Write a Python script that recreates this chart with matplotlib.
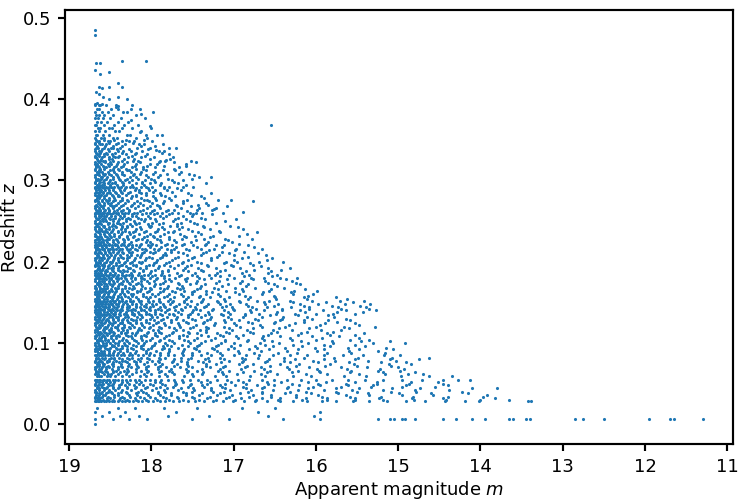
import matplotlib
matplotlib.use("Agg")
import matplotlib.pyplot as plt

# sparse galaxies at high redshift, read point by point
top_m = [18.68, 18.68, 18.67, 18.62, 18.35, 18.06, 18.68, 18.62, 18.52, 18.63,
         18.60, 18.52, 18.41, 18.36, 18.67, 18.63, 18.59, 18.51, 18.41, 18.30,
         18.68, 18.66, 18.64, 18.60, 18.43, 18.40, 18.25, 17.98, 16.54, 17.87,
         18.02, 18.12, 18.25, 18.14, 18.06, 17.79, 17.85, 17.94, 17.52, 17.46,
         17.58, 17.72, 17.82, 17.27, 17.48, 17.66, 17.03, 16.77, 16.88, 17.24,
         17.31, 17.42]
top_z = [0.485, 0.478, 0.444, 0.444, 0.446, 0.446, 0.435, 0.431, 0.433, 0.414,
         0.413, 0.414, 0.419, 0.414, 0.408, 0.406, 0.402, 0.400, 0.402, 0.400,
         0.394, 0.395, 0.393, 0.394, 0.390, 0.391, 0.387, 0.384, 0.368, 0.356,
         0.367, 0.381, 0.374, 0.359, 0.355, 0.340, 0.336, 0.337, 0.324, 0.323,
         0.317, 0.322, 0.325, 0.304, 0.306, 0.308, 0.276, 0.274, 0.261, 0.265,
         0.270, 0.266]

# the bulk of the sample: redshift row -> apparent magnitudes on that row
rows = [
    (0.392, "18.68 18.62 18.55 18.43 18.24"),
    (0.388, "18.66 18.64 18.49 18.40 18.14"),
    (0.384, "18.68 18.60 18.53 18.34 18.29"),
    (0.380, "18.67 18.63 18.57 18.46 18.19"),
    (0.376, "18.68 18.65 18.59 18.50 18.37 18.08"),
    (0.372, "18.66 18.61 18.54 18.41 18.28"),
    (0.368, "18.68 18.67 18.58 18.45 18.33 18.16"),
    (0.364, "18.65 18.62 18.52 18.48 18.35 18.23 18.00"),
    (0.360, "18.68 18.63 18.56 18.44 18.39 18.12"),
    (0.356, "18.67 18.66 18.59 18.51 18.30 18.26 17.93"),
    (0.352, "18.68 18.61 18.57 18.47 18.42 18.18 18.05"),
    (0.348, "18.66 18.64 18.53 18.50 18.36 18.27 17.99 18.21"),
    (0.344, "18.68 18.62 18.60 18.55 18.43 18.32 18.09 17.86 18.15"),
    (0.340, "18.67 18.65 18.58 18.49 18.46 18.38 18.17 17.70 18.02"),
    (0.336, "18.68 18.63 18.61 18.52 18.41 18.34 18.25 17.91 18.11"),
    (0.332, "18.66 18.64 18.57 18.54 18.48 18.31 18.20 18.05 17.78"),
    (0.328, "18.68 18.67 18.60 18.51 18.44 18.40 18.28 17.97 17.74 18.13"),
    (0.324, "18.65 18.62 18.59 18.56 18.47 18.36 18.22 18.16 17.89 17.83"),
    (0.320, "18.68 18.66 18.61 18.53 18.49 18.42 18.33 18.01 17.58 18.19 17.93"),
    (0.316, "18.67 18.63 18.58 18.55 18.45 18.37 18.24 18.10 17.66 17.96"),
    (0.312, "18.68 18.64 18.62 18.50 18.46 18.39 18.30 18.27 18.06 17.71 17.86"),
    (0.308, "18.66 18.65 18.59 18.56 18.52 18.43 18.35 18.14 18.21 17.98 17.54 17.81"),
    (0.304, "18.68 18.61 18.60 18.54 18.47 18.41 18.26 18.04 17.92 17.42 18.18"),
    (0.300, "18.67 18.66 18.63 18.57 18.50 18.38 18.32 18.23 18.08 17.75 17.61 17.97"),
    (0.296, "18.68 18.64 18.58 18.53 18.48 18.44 18.34 18.19 18.11 17.88 17.33 17.67 18.02"),
    (0.292, "18.68 18.66 18.65 18.62 18.60 18.55 18.51 18.49 18.45 18.40 18.37 18.31 18.26 "
            "18.22 18.13 18.07 17.99 17.85 17.79 17.49 17.62"),
    (0.288, "18.67 18.63 18.61 18.56 18.52 18.46 18.38 18.33 18.20 18.15 17.95 17.64 18.03 17.81"),
    (0.284, "18.68 18.65 18.59 18.54 18.50 18.43 18.36 18.28 18.12 17.90 17.56 17.27 18.07"),
    (0.280, "18.66 18.64 18.62 18.57 18.47 18.41 18.39 18.24 18.18 17.98 17.71 17.40 17.83"),
    (0.276, "18.68 18.67 18.60 18.55 18.51 18.44 18.35 18.29 18.09 18.05 17.76 17.19 17.57 17.94"),
    (0.272, "18.65 18.63 18.58 18.53 18.49 18.40 18.32 18.21 18.14 17.86 17.62 17.34 17.99"),
    (0.268, "18.68 18.66 18.61 18.59 18.48 18.45 18.37 18.25 18.16 18.01 17.69 17.08 17.52 17.91"),
    (0.264, "18.67 18.64 18.62 18.56 18.52 18.42 18.34 18.27 18.10 17.97 17.80 17.44 17.26 17.73"),
    (0.260, "18.68 18.67 18.65 18.63 18.60 18.58 18.54 18.52 18.47 18.43 18.41 18.36 18.32 "
            "18.28 18.21 18.17 18.06 18.02 17.93 17.87 17.75 17.68 17.53 17.38 17.13 17.46"),
    (0.256, "18.68 18.64 18.61 18.57 18.55 18.49 18.44 18.38 18.33 18.23 18.19 18.04 17.90 "
            "17.82 17.50 17.61"),
    (0.252, "18.66 18.65 18.60 18.56 18.50 18.46 18.39 18.31 18.26 18.12 18.08 17.95 17.71 "
            "17.35 16.97 17.58"),
    (0.248, "18.68 18.63 18.62 18.53 18.51 18.42 18.40 18.34 18.20 18.15 17.99 17.86 17.64 "
            "17.21 17.48"),
    (0.244, "18.67 18.66 18.59 18.57 18.48 18.44 18.35 18.29 18.24 18.03 18.00 17.77 17.37 "
            "17.04 17.69"),
    (0.240, "18.68 18.64 18.61 18.55 18.52 18.47 18.37 18.32 18.18 18.13 17.92 17.84 17.66 "
            "17.29 16.88 17.55"),
    (0.236, "18.65 18.63 18.58 18.54 18.49 18.41 18.36 18.27 18.22 18.09 17.96 17.74 17.43 "
            "17.17 16.71 17.80"),
    (0.232, "18.68 18.67 18.62 18.56 18.50 18.45 18.39 18.30 18.21 18.05 17.98 17.89 17.60 "
            "17.25 16.94 17.47"),
    (0.228, "18.66 18.64 18.60 18.53 18.51 18.43 18.34 18.28 18.16 18.11 17.93 17.78 17.63 "
            "17.11 16.78 17.36"),
    (0.224, "18.68 18.65 18.61 18.59 18.54 18.46 18.40 18.33 18.25 18.07 18.01 17.88 17.70 "
            "17.52 17.02 17.31"),
    (0.220, "18.68 18.67 18.66 18.63 18.61 18.58 18.55 18.51 18.48 18.44 18.42 18.37 18.33 "
            "18.28 18.24 18.18 18.14 18.04 18.00 17.94 17.83 17.75 17.63 17.49 17.35 17.12 "
            "16.82 17.21"),
    (0.216, "18.67 18.65 18.64 18.60 18.57 18.53 18.50 18.46 18.43 18.38 18.35 18.30 18.26 "
            "18.20 18.11 18.08 17.97 17.91 17.81 17.72 17.58 17.39 16.97 16.66 17.24"),
    (0.212, "18.68 18.63 18.62 18.56 18.52 18.47 18.41 18.36 18.27 18.23 18.09 18.02 17.95 "
            "17.76 17.67 17.33 17.14 16.87"),
    (0.208, "18.66 18.65 18.59 18.54 18.49 18.44 18.38 18.30 18.25 18.17 18.13 17.86 17.82 "
            "17.57 17.40 16.99 16.61 17.18"),
    (0.204, "18.68 18.67 18.61 18.58 18.53 18.45 18.40 18.34 18.29 18.20 18.06 17.99 17.90 "
            "17.71 17.51 17.27 16.90 16.53"),
    (0.200, "18.67 18.64 18.62 18.55 18.50 18.48 18.39 18.32 18.24 18.15 18.11 17.94 17.79 "
            "17.62 17.44 17.09 16.69 16.40 16.96"),
    (0.196, "18.68 18.66 18.60 18.57 18.51 18.43 18.37 18.35 18.22 18.19 18.03 17.98 17.85 "
            "17.68 17.32 17.03 16.76 17.52"),
    (0.192, "18.65 18.63 18.59 18.53 18.49 18.46 18.41 18.28 18.26 18.14 18.07 17.92 17.73 "
            "17.59 17.21 16.92 16.58 16.31 17.43"),
    (0.188, "18.68 18.67 18.62 18.56 18.54 18.47 18.38 18.33 18.30 18.21 18.10 18.00 17.87 "
            "17.80 17.55 17.16 16.85 16.54 17.37"),
    (0.184, "18.68 18.66 18.64 18.61 18.59 18.55 18.52 18.48 18.45 18.40 18.36 18.31 18.27 "
            "18.23 18.16 18.09 18.04 17.95 17.88 17.78 17.64 17.50 17.30 17.06 16.81 16.47 17.22"),
    (0.180, "18.67 18.65 18.63 18.62 18.58 18.56 18.51 18.49 18.43 18.41 18.37 18.32 18.25 "
            "18.20 18.13 18.11 18.01 17.93 17.84 17.71 17.57 17.42 17.27 17.00 16.79 16.44 "
            "16.23 16.63"),
    (0.176, "18.68 18.64 18.60 18.57 18.52 18.46 18.42 18.34 18.29 18.24 18.13 18.05 17.97 "
            "17.83 17.76 17.45 17.18 16.90 16.62 16.29 17.58"),
    (0.172, "18.66 18.65 18.61 18.55 18.50 18.47 18.39 18.35 18.26 18.18 18.12 17.96 17.89 "
            "17.66 17.53 17.35 17.07 16.83 16.51 16.19"),
    (0.168, "18.68 18.67 18.62 18.58 18.54 18.44 18.40 18.32 18.27 18.21 18.08 18.02 17.90 "
            "17.81 17.61 17.41 17.24 16.98 16.74 16.39 17.69"),
    (0.164, "18.67 18.63 18.59 18.56 18.51 18.48 18.43 18.36 18.30 18.17 18.14 18.03 17.86 "
            "17.75 17.48 17.34 17.09 16.88 16.57 16.27 15.99 17.60"),
    (0.160, "18.68 18.66 18.64 18.57 18.53 18.45 18.38 18.33 18.25 18.22 18.10 17.99 17.92 "
            "17.78 17.64 17.51 17.19 16.93 16.66 16.28 16.03 17.33"),
    (0.156, "18.66 18.65 18.60 18.55 18.50 18.47 18.41 18.37 18.28 18.19 18.06 18.01 17.85 "
            "17.73 17.56 17.29 17.06 16.80 16.50 16.14 15.76 17.42"),
    (0.152, "18.68 18.67 18.64 18.62 18.59 18.57 18.54 18.50 18.46 18.44 18.39 18.35 18.31 "
            "18.26 18.22 18.15 18.12 18.04 17.98 17.91 17.80 17.74 17.60 17.52 17.38 17.20 "
            "17.11 16.94 16.71 16.57 16.31 16.05 15.71 15.42"),
    (0.148, "18.67 18.66 18.65 18.61 18.60 18.56 18.53 18.49 18.48 18.43 18.40 18.34 18.29 "
            "18.24 18.18 18.13 18.07 17.99 17.94 17.86 17.77 17.66 17.57 17.44 17.31 17.16 "
            "17.04 16.85 16.62 16.46 16.19 15.97 15.65 15.34"),
    (0.144, "18.68 18.64 18.63 18.58 18.55 18.51 18.45 18.42 18.36 18.30 18.27 18.19 18.14 "
            "18.06 18.02 17.90 17.83 17.73 17.59 17.47 17.36 17.14 17.02 16.78 16.60 16.30 "
            "16.08 15.73 15.39"),
    (0.140, "18.68 18.67 18.65 18.62 18.59 18.57 18.52 18.50 18.47 18.42 18.38 18.35 18.28 "
            "18.25 18.20 18.12 18.09 18.02 17.95 17.88 17.81 17.71 17.63 17.49 17.41 17.26 "
            "17.12 16.99 16.80 16.63 16.41 16.19 15.91 15.64 15.27"),
    (0.136, "18.67 18.66 18.63 18.61 18.58 18.54 18.51 18.46 18.44 18.39 18.33 18.31 18.24 "
            "18.21 18.15 18.06 18.03 17.96 17.90 17.79 17.74 17.64 17.53 17.43 17.30 17.15 "
            "17.04 16.86 16.69 16.48 16.25 16.00 15.79 15.52"),
    (0.132, "18.68 18.65 18.62 18.57 18.52 18.48 18.43 18.40 18.32 18.28 18.17 18.11 17.99 "
            "17.93 17.81 17.69 17.55 17.40 17.27 17.07 16.89 16.66 16.40 16.11 15.78"),
    (0.128, "18.66 18.64 18.60 18.55 18.53 18.46 18.41 18.35 18.29 18.22 18.18 18.07 17.97 "
            "17.88 17.76 17.62 17.47 17.32 17.12 16.94 16.70 16.44 16.15 15.85 15.58"),
    (0.124, "18.68 18.67 18.61 18.58 18.50 18.47 18.38 18.36 18.26 18.19 18.13 18.03 17.94 "
            "17.84 17.68 17.56 17.37 17.22 16.99 16.78 16.51 16.25 15.89 15.53"),
    (0.120, "18.67 18.63 18.62 18.56 18.54 18.44 18.42 18.33 18.27 18.21 18.09 18.02 17.91 "
            "17.78 17.65 17.49 17.34 17.12 16.92 16.65 16.37 16.00 15.66 15.28"),
    (0.116, "18.68 18.66 18.59 18.57 18.51 18.49 18.40 18.34 18.30 18.16 18.12 17.98 17.92 "
            "17.70 17.62 17.41 17.33 17.02 16.84 16.52 16.29 15.94 15.69"),
    (0.112, "18.65 18.64 18.61 18.55 18.52 18.45 18.37 18.32 18.23 18.18 18.05 17.95 17.88 "
            "17.75 17.54 17.45 17.20 17.06 16.76 16.55 16.18 15.87 15.41"),
    (0.108, "18.68 18.67 18.60 18.58 18.49 18.43 18.39 18.28 18.25 18.13 18.07 17.93 17.82 "
            "17.66 17.57 17.31 17.13 16.97 16.64 16.43 16.05 15.72"),
    (0.104, "18.66 18.63 18.62 18.56 18.53 18.46 18.36 18.31 18.21 18.11 18.02 17.90 17.79 "
            "17.60 17.48 17.27 17.10 16.82 16.63 16.29 16.00 15.58 15.36"),
    (0.100, "18.68 18.65 18.59 18.55 18.50 18.44 18.41 18.33 18.27 18.16 18.09 17.96 17.83 "
            "17.73 17.53 17.40 17.15 16.99 16.68 16.45 16.09 15.79 15.31 14.92"),
    (0.096, "18.67 18.64 18.61 18.57 18.48 18.45 18.35 18.29 18.19 18.13 17.99 17.86 17.76 "
            "17.56 17.44 17.21 17.03 16.74 16.52 16.17 15.83 15.40"),
    (0.092, "18.68 18.66 18.63 18.54 18.51 18.42 18.38 18.30 18.22 18.10 18.04 17.87 17.78 "
            "17.60 17.46 17.24 17.07 16.81 16.57 16.22 15.90 15.47 15.06"),
    (0.088, "18.65 18.64 18.60 18.58 18.52 18.47 18.40 18.34 18.26 18.20 18.07 18.01 17.90 "
            "17.80 17.63 17.51 17.32 17.17 16.93 16.75 16.46 16.23 15.87 15.57 15.16"),
    (0.085, "18.68 18.67 18.66 18.63 18.61 18.59 18.56 18.53 18.50 18.46 18.42 18.37 18.33 "
            "18.27 18.23 18.16 18.10 18.03 17.97 17.89 17.80 17.72 17.61 17.51 17.40 17.27 "
            "17.14 17.00 16.85 16.69 16.52 16.32 16.11 15.90 15.67 15.43 15.17 14.98"),
    (0.082, "18.67 18.65 18.60 18.56 18.49 18.45 18.39 18.30 18.24 18.12 18.05 17.91 17.83 "
            "17.64 17.52 17.31 17.16 16.90 16.70 16.39 16.14 15.78 15.49 15.08 14.62"),
    (0.078, "18.68 18.62 18.61 18.54 18.51 18.43 18.36 18.32 18.21 18.14 17.99 17.92 17.74 "
            "17.64 17.43 17.30 17.05 16.89 16.60 16.39 16.04 15.77 15.37 15.03"),
    (0.074, "18.66 18.64 18.59 18.57 18.48 18.46 18.37 18.27 18.18 18.09 17.96 17.87 17.69 "
            "17.57 17.34 17.21 16.94 16.76 16.44 16.21 15.83 15.54 15.11 14.84"),
    (0.070, "18.68 18.67 18.60 18.55 18.52 18.41 18.35 18.25 18.16 18.06 17.92 17.82 17.65 "
            "17.51 17.29 17.13 16.86 16.67 16.35 16.08 15.69 15.38 15.00"),
    (0.066, "18.67 18.63 18.62 18.56 18.47 18.43 18.33 18.28 18.12 18.04 17.88 17.79 17.56 "
            "17.45 17.19 17.05 16.75 16.56 16.22 15.96 15.57 15.25 14.98"),
    (0.062, "18.68 18.65 18.58 18.53 18.49 18.40 18.31 18.23 18.09 18.00 17.83 17.72 17.51 "
            "17.38 17.13 16.96 16.67 16.47 16.12 15.87 15.47 15.16 14.88 14.70"),
    (0.059, "18.66 18.64 18.61 18.54 18.50 18.44 18.36 18.27 18.14 18.07 17.91 17.81 17.60 "
            "17.49 17.23 17.09 16.80 16.62 16.28 16.06 15.66 15.39 14.96 14.63 14.35"),
    (0.055, "18.68 18.67 18.66 18.64 18.62 18.59 18.57 18.54 18.51 18.47 18.44 18.40 18.35 "
            "18.31 18.26 18.20 18.15 18.08 18.02 17.95 17.88 17.80 17.72 17.63 17.53 17.43 "
            "17.32 17.20 17.08 16.95 16.81 16.66 16.51 16.35 16.18 16.00 15.81 15.61 15.40 "
            "15.18 14.95 14.71 14.46 14.27 14.13"),
    (0.052, "18.67 18.63 18.60 18.55 18.50 18.45 18.36 18.30 18.18 18.13 17.96 17.90 17.71 "
            "17.62 17.40 17.29 17.03 16.88 16.59 16.42 16.10 15.88 15.52 15.26 14.85 14.52"),
    (0.048, "18.68 18.65 18.61 18.52 18.48 18.39 18.32 18.21 18.10 17.98 17.83 17.71 17.53 "
            "17.38 17.16 16.98 16.72 16.51 16.21 15.95 15.61 15.31 14.90 14.40"),
    (0.044, "18.66 18.64 18.58 18.55 18.46 18.41 18.29 18.20 18.08 17.94 17.81 17.64 17.49 "
            "17.27 17.10 16.85 16.65 16.35 16.10 15.76 15.48 15.08 14.74 14.10 13.80"),
    (0.040, "18.68 18.67 18.60 18.53 18.49 18.37 18.31 18.16 18.10 17.92 17.83 17.61 17.51 "
            "17.25 17.12 16.82 16.66 16.32 16.12 15.75 15.50 15.09 14.78 14.22"),
    (0.036, "18.67 18.63 18.59 18.56 18.45 18.40 18.27 18.17 18.04 17.89 17.76 17.58 17.42 "
            "17.20 17.02 16.76 16.54 16.24 15.98 15.64 15.35 14.95 14.58 13.92"),
    (0.032, "18.68 18.65 18.62 18.54 18.50 18.38 18.33 18.20 18.09 17.96 17.82 17.67 17.48 "
            "17.32 17.09 16.91 16.65 16.43 16.12 15.87 15.52 15.23 14.83 14.45 13.82"),
    (0.028, "18.68 18.67 18.65 18.63 18.61 18.58 18.55 18.52 18.48 18.45 18.41 18.36 18.32 "
            "18.27 18.22 18.16 18.11 18.04 17.98 17.90 17.83 17.74 17.66 17.56 17.47 17.36 "
            "17.25 17.13 17.01 16.87 16.74 16.59 16.44 16.28 16.11 15.93 15.75 15.55 15.35 "
            "15.13 14.91 14.67 14.43 14.19 14.02 13.42 13.38"),
    (0.020, "18.66 18.41 18.20 17.85 17.45 16.90 16.50"),
    (0.015, "18.68 18.52 18.32 17.70 16.70 15.95"),
    (0.010, "18.60 18.38 18.15 17.80 17.30 16.58 16.02"),
    (0.006, "18.68 18.47 18.27 18.05 17.50 17.05 16.40 15.95 15.25 15.10 15.05 14.95 14.92 "
            "14.80 14.45 14.30 14.10 13.95 13.65 13.60 13.45 13.40 12.85 12.75 12.50 11.95 "
            "11.70 11.65 11.30"),
    (0.000, "18.68"),
]

# in-between rows, mostly the crowded faint end
fill_rows = [
    (0.350, "18.67 18.58 18.45 18.31 18.09"),
    (0.346, "18.68 18.63 18.51 18.40 18.22"),
    (0.342, "18.66 18.56 18.47 18.35 18.12 17.95"),
    (0.338, "18.68 18.60 18.53 18.42 18.27 18.04"),
    (0.334, "18.67 18.62 18.55 18.44 18.36 18.18 17.87"),
    (0.330, "18.68 18.64 18.57 18.46 18.39 18.24 18.08"),
    (0.326, "18.66 18.61 18.52 18.48 18.33 18.21 18.02 17.77"),
    (0.322, "18.68 18.63 18.56 18.50 18.41 18.29 18.14 17.91"),
    (0.318, "18.67 18.65 18.59 18.51 18.43 18.34 18.20 18.05 17.84"),
    (0.314, "18.68 18.62 18.57 18.47 18.40 18.31 18.18 18.10 17.73"),
    (0.310, "18.66 18.64 18.60 18.53 18.45 18.36 18.25 18.12 17.95 17.64"),
    (0.306, "18.68 18.63 18.58 18.49 18.42 18.33 18.22 18.07 17.89"),
    (0.302, "18.67 18.65 18.61 18.55 18.46 18.39 18.29 18.16 18.00 17.80 17.51"),
    (0.298, "18.68 18.62 18.59 18.51 18.44 18.35 18.27 18.11 17.96 17.72"),
    (0.294, "18.66 18.64 18.60 18.57 18.50 18.42 18.34 18.23 18.09 17.90 17.58"),
    (0.290, "18.68 18.65 18.63 18.58 18.53 18.47 18.39 18.32 18.18 18.04 17.84 17.69"),
    (0.286, "18.67 18.62 18.59 18.52 18.44 18.37 18.26 18.15 17.98 17.75"),
    (0.282, "18.68 18.64 18.61 18.55 18.48 18.40 18.31 18.19 18.06 17.88 17.52"),
    (0.278, "18.66 18.63 18.58 18.51 18.45 18.36 18.25 18.13 17.96 17.79 17.36"),
    (0.274, "18.68 18.65 18.60 18.54 18.47 18.38 18.28 18.17 18.03 17.85 17.61"),
    (0.270, "18.67 18.62 18.57 18.50 18.43 18.34 18.23 18.10 17.93 17.70 17.43"),
    (0.266, "18.68 18.64 18.59 18.53 18.46 18.39 18.30 18.20 18.05 17.89 17.64 17.21"),
    (0.262, "18.66 18.65 18.62 18.58 18.51 18.45 18.37 18.27 18.14 17.99 17.82 17.57"),
    (0.258, "18.68 18.63 18.60 18.54 18.49 18.41 18.33 18.24 18.11 17.97 17.78 17.49 17.26"),
    (0.254, "18.67 18.64 18.57 18.52 18.44 18.36 18.28 18.16 18.02 17.86 17.67 17.40"),
    (0.250, "18.68 18.62 18.59 18.55 18.47 18.40 18.31 18.21 18.09 17.94 17.74 17.53 17.10"),
    (0.246, "18.66 18.65 18.61 18.53 18.46 18.38 18.26 18.18 18.04 17.91 17.69 17.44"),
    (0.242, "18.68 18.63 18.58 18.51 18.43 18.35 18.29 18.14 18.01 17.87 17.63 17.36 16.95"),
    (0.238, "18.67 18.64 18.60 18.56 18.48 18.41 18.32 18.20 18.07 17.93 17.72 17.51 17.18"),
    (0.234, "18.68 18.62 18.57 18.52 18.45 18.37 18.26 18.15 18.02 17.85 17.65 17.40 16.84"),
    (0.230, "18.66 18.65 18.61 18.54 18.49 18.39 18.30 18.22 18.09 17.97 17.79 17.58 17.29"),
    (0.226, "18.68 18.63 18.59 18.55 18.47 18.42 18.33 18.19 18.05 17.90 17.73 17.46 17.07"),
    (0.222, "18.67 18.64 18.62 18.57 18.51 18.44 18.36 18.27 18.12 17.99 17.81 17.60 17.33 16.93"),
    (0.218, "18.68 18.66 18.60 18.55 18.48 18.40 18.31 18.23 18.15 18.02 17.88 17.70 17.45 "
            "17.14 16.75"),
    (0.214, "18.67 18.63 18.58 18.53 18.46 18.39 18.28 18.17 18.06 17.92 17.76 17.54 17.30 16.98"),
    (0.210, "18.68 18.65 18.61 18.56 18.50 18.42 18.34 18.25 18.11 17.98 17.83 17.61 17.37 "
            "17.05 16.70"),
    (0.206, "18.66 18.64 18.59 18.52 18.45 18.37 18.27 18.14 18.03 17.87 17.68 17.48 17.20 16.82"),
    (0.202, "18.68 18.63 18.60 18.54 18.47 18.41 18.30 18.21 18.08 17.93 17.75 17.56 17.28 "
            "16.99 16.59"),
    (0.198, "18.67 18.65 18.62 18.57 18.49 18.43 18.33 18.26 18.12 17.97 17.82 17.63 17.39 "
            "17.12 16.80"),
    (0.194, "18.68 18.64 18.58 18.53 18.46 18.39 18.31 18.18 18.06 17.91 17.77 17.57 17.31 "
            "17.01 16.67"),
    (0.190, "18.66 18.62 18.60 18.55 18.48 18.40 18.34 18.22 18.10 17.96 17.80 17.61 17.40 "
            "17.11 16.75 16.42"),
    (0.186, "18.68 18.65 18.61 18.56 18.50 18.44 18.36 18.25 18.15 18.02 17.87 17.69 17.47 "
            "17.20 16.90 16.58"),
    (0.182, "18.67 18.64 18.59 18.53 18.47 18.42 18.33 18.24 18.12 17.99 17.84 17.66 17.44 "
            "17.17 16.87 16.53"),
    (0.178, "18.68 18.63 18.60 18.55 18.49 18.41 18.31 18.20 18.09 17.94 17.79 17.59 17.36 "
            "17.08 16.76 16.36"),
    (0.174, "18.66 18.65 18.62 18.57 18.51 18.45 18.37 18.27 18.16 18.03 17.86 17.68 17.46 "
            "17.21 16.92 16.58 16.24"),
    (0.170, "18.68 18.64 18.58 18.54 18.48 18.40 18.32 18.22 18.11 17.97 17.80 17.63 17.40 "
            "17.14 16.85 16.47"),
    (0.166, "18.67 18.62 18.60 18.56 18.49 18.43 18.35 18.24 18.13 18.00 17.84 17.65 17.44 "
            "17.19 16.90 16.55 16.13"),
    (0.162, "18.68 18.65 18.61 18.55 18.52 18.44 18.36 18.28 18.17 18.05 17.89 17.71 17.51 "
            "17.26 16.98 16.64 16.30"),
    (0.158, "18.66 18.64 18.59 18.53 18.47 18.41 18.32 18.23 18.10 17.96 17.81 17.62 17.41 "
            "17.16 16.86 16.51 16.09"),
    (0.154, "18.68 18.66 18.63 18.58 18.54 18.48 18.42 18.35 18.26 18.16 18.04 17.91 17.77 "
            "17.58 17.37 17.12 16.83 16.49 16.11 15.62"),
    (0.150, "18.67 18.65 18.62 18.59 18.55 18.50 18.45 18.39 18.32 18.23 18.14 18.03 17.90 "
            "17.75 17.60 17.40 17.19 16.92 16.63 16.28 15.88 15.55"),
    (0.146, "18.68 18.66 18.63 18.60 18.56 18.52 18.47 18.41 18.35 18.27 18.19 18.09 17.98 "
            "17.85 17.70 17.53 17.33 17.09 16.82 16.51 16.14 15.81 15.46"),
    (0.142, "18.67 18.64 18.61 18.57 18.53 18.48 18.43 18.37 18.30 18.22 18.13 18.03 17.92 "
            "17.79 17.64 17.46 17.25 17.01 16.73 16.41 16.08 15.70 15.35"),
    (0.138, "18.68 18.65 18.62 18.58 18.54 18.49 18.44 18.38 18.31 18.24 18.16 18.07 17.96 "
            "17.83 17.68 17.51 17.31 17.07 16.79 16.47 16.13 15.74 15.43"),
    (0.134, "18.66 18.63 18.60 18.55 18.50 18.45 18.38 18.30 18.21 18.12 18.00 17.87 17.72 "
            "17.55 17.35 17.13 16.86 16.56 16.22 15.85"),
    (0.130, "18.68 18.64 18.59 18.54 18.47 18.41 18.34 18.25 18.14 18.01 17.86 17.70 17.51 "
            "17.29 17.03 16.74 16.41 16.05 15.63"),
    (0.126, "18.67 18.65 18.61 18.56 18.51 18.44 18.36 18.28 18.18 18.06 17.92 17.76 17.58 "
            "17.36 17.11 16.83 16.50 16.14 15.74"),
    (0.122, "18.68 18.63 18.60 18.53 18.48 18.40 18.33 18.23 18.11 17.98 17.83 17.66 17.46 "
            "17.24 16.97 16.68 16.33 15.95 15.47"),
    (0.118, "18.66 18.64 18.58 18.55 18.49 18.42 18.35 18.26 18.15 18.03 17.88 17.72 17.53 "
            "17.31 17.06 16.77 16.45 16.08 15.60"),
    (0.114, "18.68 18.65 18.62 18.57 18.50 18.46 18.37 18.29 18.17 18.04 17.91 17.74 17.56 "
            "17.33 17.09 16.80 16.47 16.11 15.79"),
    (0.110, "18.67 18.63 18.59 18.54 18.47 18.40 18.31 18.20 18.09 17.95 17.79 17.61 17.40 "
            "17.16 16.89 16.58 16.22 15.83 15.52"),
    (0.106, "18.68 18.64 18.61 18.56 18.49 18.43 18.34 18.24 18.12 17.99 17.84 17.66 17.45 "
            "17.22 16.95 16.65 16.31 15.92 15.48"),
    (0.102, "18.66 18.65 18.60 18.53 18.46 18.39 18.29 18.18 18.06 17.91 17.75 17.56 17.35 "
            "17.11 16.84 16.53 16.18 15.81 15.45 15.10"),
    (0.098, "18.68 18.63 18.59 18.55 18.48 18.41 18.32 18.22 18.10 17.97 17.81 17.63 17.42 "
            "17.19 16.92 16.62 16.28 15.90 15.52"),
    (0.094, "18.67 18.64 18.62 18.56 18.50 18.43 18.35 18.25 18.13 18.00 17.85 17.68 17.48 "
            "17.26 17.00 16.71 16.38 16.01 15.61 15.15"),
    (0.090, "18.68 18.66 18.61 18.57 18.51 18.45 18.38 18.29 18.19 18.07 17.94 17.79 17.62 "
            "17.42 17.20 16.95 16.67 16.35 15.99 15.60 15.25"),
    (0.080, "18.67 18.63 18.58 18.52 18.45 18.36 18.27 18.16 18.03 17.89 17.73 17.55 17.35 "
            "17.12 16.86 16.57 16.25 15.90 15.52 15.10 14.75"),
    (0.076, "18.68 18.65 18.60 18.54 18.47 18.39 18.29 18.18 18.05 17.91 17.75 17.57 17.37 "
            "17.15 16.90 16.62 16.31 15.97 15.60 15.21 14.90"),
    (0.072, "18.66 18.64 18.59 18.53 18.46 18.37 18.28 18.17 18.04 17.90 17.73 17.55 17.34 "
            "17.11 16.84 16.56 16.24 15.89 15.50 15.09"),
    (0.068, "18.68 18.63 18.61 18.55 18.48 18.40 18.30 18.19 18.06 17.92 17.76 17.58 17.38 "
            "17.16 16.91 16.63 16.33 15.99 15.62 15.22 14.93"),
    (0.064, "18.67 18.65 18.60 18.54 18.47 18.38 18.29 18.18 18.05 17.91 17.75 17.57 17.37 "
            "17.14 16.88 16.60 16.29 15.95 15.58 15.18 14.79"),
    (0.050, "18.68 18.64 18.59 18.53 18.46 18.37 18.27 18.15 18.02 17.87 17.70 17.52 17.32 "
            "17.10 16.85 16.58 16.29 15.97 15.63 15.26 14.87 14.46"),
    (0.046, "18.66 18.65 18.60 18.54 18.47 18.39 18.29 18.18 18.05 17.90 17.74 17.56 17.36 "
            "17.14 16.89 16.63 16.34 16.03 15.69 15.33 14.95 14.55"),
    (0.042, "18.68 18.63 18.58 18.52 18.44 18.35 18.25 18.13 17.99 17.84 17.67 17.48 17.27 "
            "17.04 16.79 16.52 16.22 15.90 15.56 15.19 14.80 14.38"),
    (0.038, "18.67 18.64 18.61 18.55 18.48 18.40 18.30 18.19 18.06 17.92 17.76 17.58 17.38 "
            "17.16 16.92 16.66 16.37 16.06 15.73 15.37 14.99 14.60 14.15"),
    (0.034, "18.68 18.65 18.60 18.53 18.45 18.36 18.26 18.14 18.01 17.86 17.69 17.50 17.29 "
            "17.06 16.81 16.54 16.24 15.92 15.58 15.21 14.82 14.40 13.97"),
    (0.030, "18.66 18.63 18.59 18.54 18.47 18.39 18.30 18.19 18.07 17.93 17.78 17.61 17.42 "
            "17.21 16.98 16.73 16.46 16.17 15.86 15.53 15.18 14.81 14.42 14.01 13.65"),
]

m_all = list(top_m)
z_all = list(top_z)
for z, mags in rows + fill_rows:
    for v in mags.split():
        m_all.append(float(v))
        z_all.append(z)

fig = plt.figure(figsize=(746 / 130, 503 / 130), dpi=130)
ax = fig.add_axes([0.0871, 0.1173, 0.8955, 0.8628])
ax.scatter(m_all, z_all, s=3.0, color="C0", linewidths=0)
ax.invert_xaxis()
ax.set_xlabel("Apparent magnitude $m$", labelpad=2)
ax.set_ylabel("Redshift $z$", labelpad=2)
for sp in ax.spines.values():
    sp.set_linewidth(1.2)
ax.tick_params(width=1.2, length=4)

fig.savefig("out.png", dpi=130)
